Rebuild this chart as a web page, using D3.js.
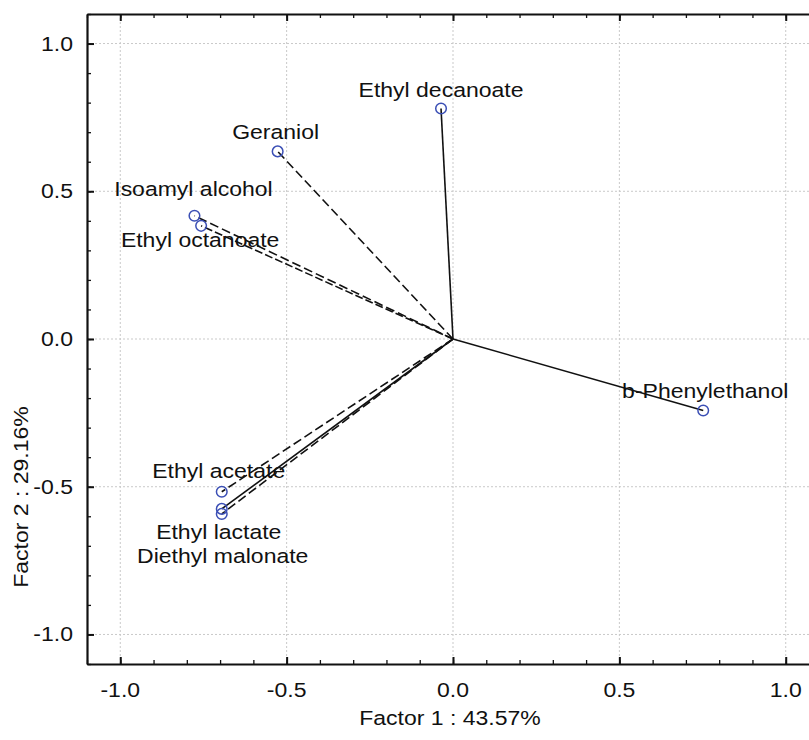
<!DOCTYPE html>
<html>
<head>
<meta charset="utf-8">
<script src="https://cdn.jsdelivr.net/npm/d3@7"></script>
<style>
  body { margin: 0; background: #fff; }
  svg text { font-family: "Liberation Sans", Arial, sans-serif; fill: #111; }
</style>
</head>
<body>
<svg id="chart" width="809" height="740"></svg>
<script>
// loadings on the first two factors
var variables = ["Ethyl decanoate", "Geraniol", "Isoamyl alcohol", "Ethyl octanoate",
  "b-Phenylethanol", "Ethyl acetate", "Ethyl lactate", "Diethyl malonate"];
var factor1 = [-0.036, -0.527, -0.777, -0.757, 0.752, -0.695, -0.695, -0.695];
var factor2 = [0.780, 0.635, 0.417, 0.383, -0.242, -0.517, -0.575, -0.592];
var lineDash = ["", "9,4", "9,4", "8,3", "", "9,4", "", "9,4"];
var majorTicks = [-1.0, -0.5, 0.0, 0.5, 1.0];
var xTitle = "Factor 1 : 43.57%";
var yTitle = "Factor 2 : 29.16%";

// label placement (pixel offsets from the marker)
var labelDx = [0, -2, -1, -1, 2, -3, -3, 1];
var labelDy = [-12, -12, -20, 21, -13, -14, 30, 49];

var stretch = 1.18, fs = 19.5;
var svg = d3.select("#chart");
var x = d3.scaleLinear().domain([-1.1, 1.1]).range([87, 819]);
var y = d3.scaleLinear().domain([-1.1, 1.1]).range([664, 14]);
var minorTicks = d3.range(-11, 12).map(function(i) { return i / 10; });
var fmt = function(v) { return d3.format(".1f")(v).replace("\u2212", "-"); };

// grid
var grid = svg.append("g").attr("stroke", "#c9c9c9").attr("stroke-width", 1).attr("stroke-dasharray", "2,2");
majorTicks.forEach(function(t) {
  grid.append("line").attr("x1", x(t)).attr("x2", x(t)).attr("y1", y(1.1)).attr("y2", y(-1.1));
  grid.append("line").attr("y1", y(t)).attr("y2", y(t)).attr("x1", x(-1.1)).attr("x2", x(1.1));
});

function drawAxis(axis, tx, ty) {
  var g = svg.append("g").attr("transform", "translate(" + tx + "," + ty + ")");
  g.call(axis.tickValues(minorTicks).tickSize(-4).tickSizeOuter(0).tickFormat(""));
  g.select(".domain").attr("stroke-width", 2.2).attr("stroke", "#111");
  g.selectAll(".tick line").attr("stroke-width", 1.3).attr("stroke", "#111");
  var g2 = svg.append("g").attr("transform", "translate(" + tx + "," + ty + ")");
  g2.call(axis.tickValues(majorTicks).tickSize(-7).tickSizeOuter(0).tickFormat(""));
  g2.select(".domain").remove();
  g2.selectAll(".tick line").attr("stroke-width", 2).attr("stroke", "#111");
}
drawAxis(d3.axisBottom(x), 0, y(-1.1));
drawAxis(d3.axisTop(x), 0, y(1.1));
drawAxis(d3.axisLeft(y), x(-1.1), 0);
drawAxis(d3.axisRight(y), x(1.1), 0);

function label(px, py, str, anchor, rot) {
  return svg.append("text")
    .attr("transform", "translate(" + px + "," + py + ")" + (rot ? " rotate(" + rot + ")" : "") + " scale(" + stretch + ",1)")
    .attr("text-anchor", anchor)
    .style("font-size", fs + "px")
    .text(str);
}

// tick labels
majorTicks.forEach(function(t) {
  label(x(t), 697, fmt(t), "middle");
  label(73, y(t) + 7, fmt(t), "end");
});
label(450, 725, xTitle, "middle");
label(28, 497, yTitle, "middle", -90);

// vectors from origin
var idx = d3.range(variables.length);
svg.append("g").selectAll("line").data(idx).enter().append("line")
  .attr("x1", x(0)).attr("y1", y(0))
  .attr("x2", function(i) { return x(factor1[i]); })
  .attr("y2", function(i) { return y(factor2[i]); })
  .attr("stroke", "#111")
  .attr("stroke-width", 1.6)
  .attr("stroke-dasharray", function(i) { return lineDash[i]; });

svg.append("g").selectAll("circle").data(idx).enter().append("circle")
  .attr("cx", function(i) { return x(factor1[i]); })
  .attr("cy", function(i) { return y(factor2[i]); })
  .attr("r", 5.3)
  .attr("fill", "none")
  .attr("stroke", "#3b4fb5")
  .attr("stroke-width", 1.5);

idx.forEach(function(i) {
  label(x(factor1[i]) + labelDx[i], y(factor2[i]) + labelDy[i], variables[i], "middle");
});
</script>
</body>
</html>
